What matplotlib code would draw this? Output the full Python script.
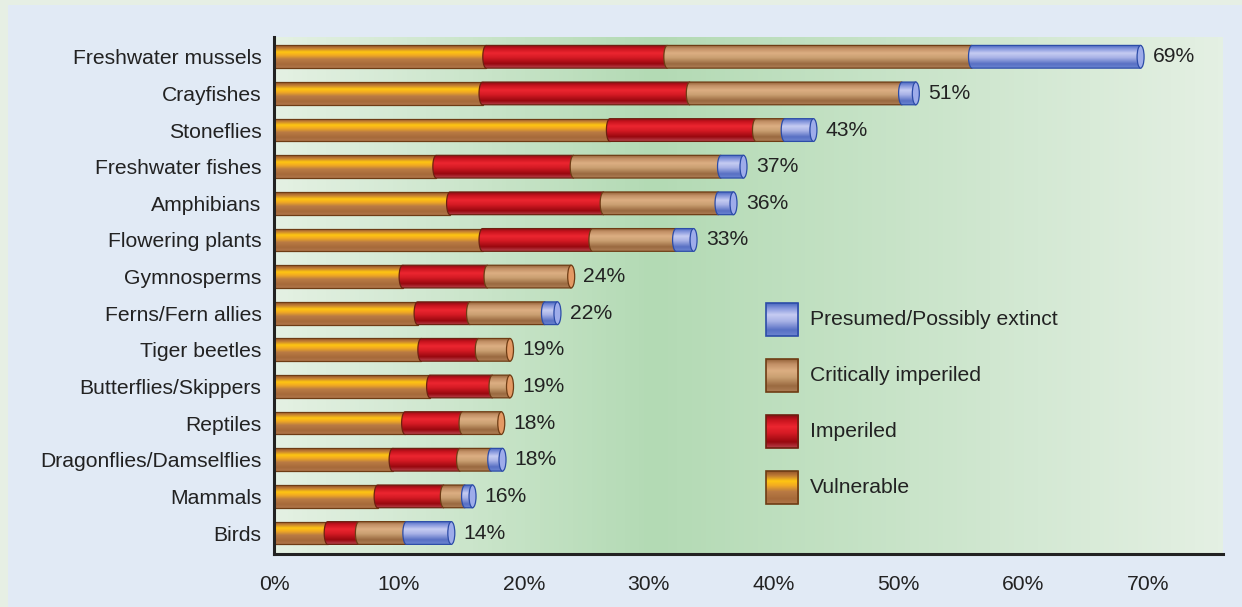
import numpy as np
import matplotlib
matplotlib.use("Agg")
import matplotlib.pyplot as plt
from matplotlib.colors import LinearSegmentedColormap
from matplotlib.patches import Rectangle, Ellipse, PathPatch
from matplotlib.path import Path

plt.rcParams['font.family'] = ['Liberation Sans', 'DejaVu Sans']

# data (percent of species), listed top to bottom as in the chart
groups = ["Freshwater mussels", "Crayfishes", "Stoneflies", "Freshwater fishes",
          "Amphibians", "Flowering plants", "Gymnosperms", "Ferns/Fern allies",
          "Tiger beetles", "Butterflies/Skippers", "Reptiles",
          "Dragonflies/Damselflies", "Mammals", "Birds"]
vulnerable = [17.0, 16.7, 26.9, 13.0, 14.1, 16.7, 10.3, 11.5, 11.8, 12.5, 10.5, 9.5, 8.3, 4.3]
imperiled = [14.5, 16.6, 11.7, 11.0, 12.3, 8.8, 6.8, 4.2, 4.6, 5.0, 4.6, 5.4, 5.3, 2.5]
critically = [24.4, 17.0, 2.3, 11.8, 9.2, 6.7, 6.7, 6.0, 2.5, 1.4, 3.1, 2.5, 1.7, 3.8]
extinct = [13.5, 1.1, 2.3, 1.8, 1.2, 1.4, 0.0, 1.0, 0.0, 0.0, 0.0, 0.9, 0.6, 3.6]
totals = ["69%", "51%", "43%", "37%", "36%", "33%", "24%", "22%", "19%", "19%",
          "18%", "18%", "16%", "14%"]
legend_names = ["Presumed/Possibly extinct", "Critically imperiled", "Imperiled", "Vulnerable"]

# cylinder shading, top -> bottom
styles = {
    "vul": dict(stops=[(0, "#94552a"), (0.14, "#c27e34"), (0.3, "#ffc612"), (0.44, "#f2aa22"),
                       (0.62, "#b97a44"), (0.85, "#a66a3a"), (1, "#b0764a")], edge="#6e3c14", cap="#e89a5a"),
    "imp": dict(stops=[(0, "#8c0c14"), (0.15, "#c8141e"), (0.35, "#ec2630"), (0.55, "#d41a24"),
                       (0.82, "#98080f"), (1, "#b8404a")], edge="#6e2010", cap="#e05050"),
    "crit": dict(stops=[(0, "#96643a"), (0.15, "#c29066"), (0.35, "#dcae82"), (0.55, "#caa072"),
                        (0.82, "#9a6a40"), (1, "#ae7e56")], edge="#6e3c14", cap="#e49a64"),
    "ext": dict(stops=[(0, "#4a68c0"), (0.15, "#8496dc"), (0.35, "#c6ccf2"), (0.55, "#a8b2e6"),
                       (0.82, "#5870c4"), (1, "#6a84d0")], edge="#2c4ca8", cap="#9eacea"),
}
for s in styles.values():
    s["cmap"] = LinearSegmentedColormap.from_list("c", s["stops"])

grad = np.linspace(0, 1, 80).reshape(-1, 1)
bar_h = 0.62
rx = 0.28  # half width of the end ellipse, x units
ylo, yhi = -0.573, 13.54
xmax = 76
fs = 15.2

fig = plt.figure(figsize=(12.42, 6.07), dpi=100, facecolor="#e6efe4")
fig.patches.append(Rectangle((8 / 1242, 0), 1, 1 - 5 / 607, transform=fig.transFigure,
                             facecolor="#e1eaf5", edgecolor="none", zorder=-10))
ax = fig.add_axes([274 / 1242, 1 - 554 / 607, (1223 - 274) / 1242, (554 - 37) / 607])

# green background
bg = LinearSegmentedColormap.from_list("bg", [(0, "#e4f1e3"), (0.4, "#b3dab4"), (1, "#e4f0e3")])
ax.imshow(np.linspace(0, 1, 200).reshape(1, -1), extent=[0, xmax, ylo, yhi], aspect="auto",
          cmap=bg, zorder=0)


def segment(y, a, b, st, z, first):
    top, bot = y + bar_h / 2, y - bar_h / 2
    if first:
        pts = [(a, top), (a, bot)]
    else:
        t = np.linspace(0, np.pi, 30)
        pts = list(zip(a - rx * np.sin(t), y + bar_h / 2 * np.cos(t)))
    pts += [(b, bot), (b, top), pts[0]]
    patch = PathPatch(Path(pts), facecolor="none", edgecolor=st["edge"], lw=0.9, zorder=z + 0.5)
    ax.add_patch(patch)
    im = ax.imshow(grad, extent=[a - rx, b, bot, top], aspect="auto", cmap=st["cmap"],
                   origin="upper", zorder=z)
    im.set_clip_path(patch)


n = len(groups)
for i in range(n):
    y = n - 1 - i
    left = 0
    z = 2
    last = None
    for key, vals in [("vul", vulnerable), ("imp", imperiled), ("crit", critically), ("ext", extinct)]:
        w = vals[i]
        if w <= 0:
            continue
        segment(y, left, left + w, styles[key], z, left == 0)
        left += w
        z += 1
        last = key
    st = styles[last]
    ax.add_patch(Ellipse((left, y), 2 * rx, bar_h, facecolor=st["cap"], edgecolor=st["edge"],
                         lw=0.9, zorder=z + 1))
    ax.text(left + rx + 0.7, y, totals[i], va="center", ha="left", fontsize=fs, color="#222222",
            zorder=20)

# legend drawn by hand with shaded squares
leg_y = [5.83, 4.29, 2.76, 1.23]
for name, key, ly in zip(legend_names, ["ext", "crit", "imp", "vul"], leg_y):
    st = styles[key]
    ax.imshow(grad, extent=[39.4, 42.0, ly - 0.45, ly + 0.45], aspect="auto", cmap=st["cmap"],
              origin="upper", zorder=5)
    ax.add_patch(Rectangle((39.4, ly - 0.45), 2.6, 0.9, facecolor="none", edgecolor=st["edge"],
                           lw=1.2, zorder=6))
    ax.text(42.9, ly, name, va="center", ha="left", fontsize=fs, color="#222222")

ax.set_xlim(0, xmax)
ax.set_ylim(ylo, yhi)
ax.set_yticks(np.arange(n))
ax.set_yticklabels(groups[::-1], fontsize=fs, color="#222222")
ax.set_xticks(np.arange(0, 80, 10))
ax.set_xticklabels([f"{v}%" for v in range(0, 80, 10)], fontsize=fs, color="#222222")
ax.tick_params(axis="both", length=0)
ax.tick_params(axis="y", pad=9)
ax.tick_params(axis="x", pad=15)
for side in ["top", "right"]:
    ax.spines[side].set_visible(False)
for side in ["left", "bottom"]:
    ax.spines[side].set_color("#222222")
    ax.spines[side].set_linewidth(2.2)
    ax.spines[side].set_zorder(30)

fig.savefig("out.png", dpi=100)
